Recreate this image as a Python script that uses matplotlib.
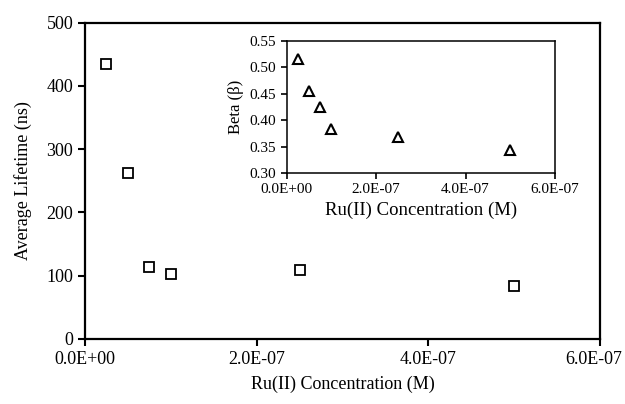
import matplotlib
matplotlib.use("Agg")
import matplotlib.pyplot as plt
import matplotlib.transforms as mtransforms
from matplotlib.ticker import FuncFormatter

conc = [2.5e-8, 5.0e-8, 7.5e-8, 1.0e-7, 2.5e-7, 5.0e-7]
lifetime = [435, 262, 114, 103, 109, 84]
beta = [0.515, 0.456, 0.425, 0.384, 0.368, 0.343]

x_ticks = [0.0, 2e-7, 4e-7, 6e-7]
main_yticks = [0, 100, 200, 300, 400, 500]
inset_yticks = [0.30, 0.35, 0.40, 0.45, 0.50, 0.55]

plt.rcParams['font.family'] = ['Liberation Serif', 'DejaVu Serif']

fig = plt.figure(figsize=(6.25, 4.04), dpi=100)
ax = fig.add_axes([0.136, 0.161, 0.824, 0.783])
ax.plot(conc, lifetime, linestyle='none', marker='s', markersize=7,
        markerfacecolor='white', markeredgecolor='black', markeredgewidth=1.3)
ax.set_xlim(0, 6e-7)
ax.set_ylim(0, 500)
ax.set_xticks(x_ticks)
ax.set_yticks(main_yticks)
ax.xaxis.set_major_formatter(FuncFormatter(lambda v, p: f"{v:.1E}"))
ax.tick_params(direction='out', length=5, width=1.5, labelsize=13)
for s in ax.spines.values():
    s.set_linewidth(1.6)
ax.set_xlabel("Ru(II) Concentration (M)", fontsize=13, labelpad=6)
ax.set_ylabel("Average Lifetime (ns)", fontsize=13, labelpad=10)

ins = fig.add_axes([0.4587, 0.5718, 0.4293, 0.3272])
ins.plot(conc, beta, linestyle='none', marker='^', markersize=6.5,
         markerfacecolor='white', markeredgecolor='black', markeredgewidth=1.5)
ins.set_xlim(0, 6e-7)
ins.set_ylim(0.30, 0.55)
ins.set_xticks(x_ticks)
ins.set_yticks(inset_yticks)
ins.xaxis.set_major_formatter(FuncFormatter(lambda v, p: f"{v:.1E}"))
ins.yaxis.set_major_formatter(FuncFormatter(lambda v, p: f"{v:.2f}"))
ins.tick_params(direction='out', length=4, width=1.2, labelsize=11)
for s in ins.spines.values():
    s.set_linewidth(1.1)
ins.set_xlabel("Ru(II) Concentration (M)", fontsize=13.5, labelpad=4)
ins.set_ylabel("Beta (β)", fontsize=12, labelpad=4)

fig.canvas.draw()
last = ax.get_xticklabels()[-1]
last.set_transform(last.get_transform() + mtransforms.ScaledTranslation(-6 / 100, 0, fig.dpi_scale_trans))

fig.savefig("out.png", dpi=100)
